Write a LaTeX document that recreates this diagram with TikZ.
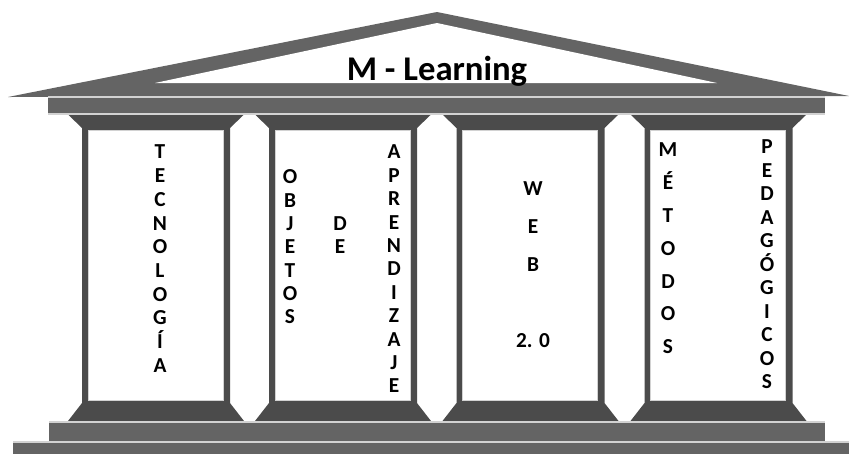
\documentclass[tikz,border=0pt]{standalone}
\usepackage{fontspec}
\setmainfont{Carlito}
\definecolor{techo}{RGB}{100,100,100}
\definecolor{oscuro}{RGB}{75,75,75}
\definecolor{borde}{RGB}{210,210,210}
\begin{document}
\begin{tikzpicture}[x=0.75pt,y=-0.75pt,
    letra/.style={font=\bfseries\fontsize{16}{18}\selectfont, text height=10.4pt, text depth=0pt, inner sep=0pt},
    titulo/.style={font=\bfseries\fontsize{26}{29}\selectfont, inner sep=0pt}]
    \useasboundingbox (0,0) rectangle (849,454);

    % Roof
    \fill[techo] (8,97) -- (437,12) -- (849,96) -- cycle;
    \fill[white] (155,83) -- (437,23) -- (717,83) -- cycle;
    \node[titulo, anchor=base] (mlearning) at (437,80) {M - Learning};

    % Beam
    \fill[techo] (48,97) rectangle (825,114);
    \draw[borde, line width=0.8pt] (48,97) -- (825,97);
    \draw[borde, line width=0.8pt] (48,114) -- (825,114);

    % Columns
    \foreach \c in {156,343,530.5,718.5} {
        \fill[oscuro] (\c-87.5,115) -- (\c+87.5,115) -- (\c+74,128) -- (\c+74,403)
            -- (\c+88,421) -- (\c-88,421) -- (\c-74,403) -- (\c-74,128) -- cycle;
        \fill[white] (\c-68,130) rectangle (\c+67,400);
        \draw[borde, line width=0.5pt] (\c-68,130) rectangle (\c+67,400);
    }

    % Steps
    \fill[techo] (49,422) rectangle (825,441);
    \draw[borde, line width=0.8pt] (49,422) -- (825,422);
    \fill[techo] (13,442) rectangle (849,454);
    \draw[borde, line width=0.8pt] (13,442) -- (849,442);

    % Column texts
    \foreach \l [count=\i] in {T,E,C,N,O,L,O,G,Í,A}
        \node[letra] (tec\i) at (160,{152+23.7*(\i-1)}) {\l};
    \foreach \l [count=\i] in {O,B,J,E,T,O,S}
        \node[letra] (obj\i) at (290,{177+23.3*(\i-1)}) {\l};
    \foreach \l [count=\i] in {D,E}
        \node[letra] (de\i) at (340,{224+23*(\i-1)}) {\l};
    \foreach \l [count=\i] in {A,P,R,E,N,D,I,Z,A,J,E}
        \node[letra] (apr\i) at (394,{152+23.4*(\i-1)}) {\l};
    \foreach \l [count=\i] in {W,E,B}
        \node[letra] (web\i) at (533,{189+38*(\i-1)}) {\l};
    \node[letra] (dosc) at (533,341) {2. 0};
    \foreach \l [count=\i] in {M,É,T,O,D,O,S}
        \node[letra] (met\i) at (668,{150+32.8*(\i-1)}) {\l};
    \foreach \l [count=\i] in {P,E,D,A,G,Ó,G,I,C,O,S}
        \node[letra] (ped\i) at (767,{147+23.5*(\i-1)}) {\l};
\end{tikzpicture}
\end{document}
